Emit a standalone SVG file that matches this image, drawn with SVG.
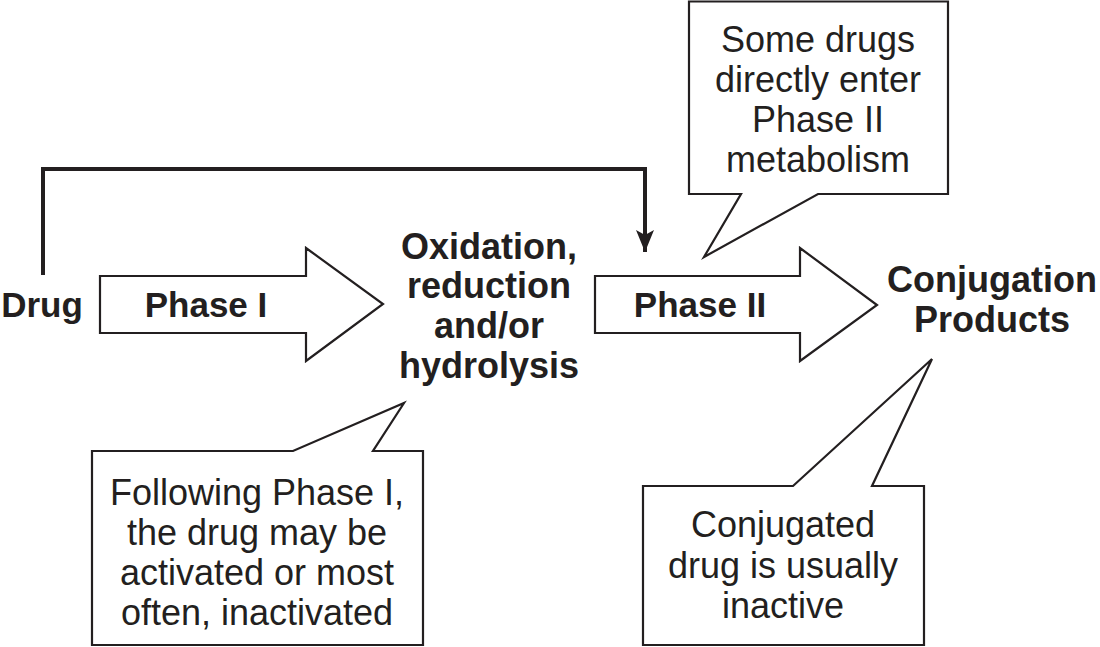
<svg xmlns="http://www.w3.org/2000/svg" width="1100" height="647" viewBox="0 0 1100 647">
<defs>
<style>
.shape{fill:#fff;stroke:#231f20;stroke-width:2.2;stroke-linejoin:miter}
.b{font-family:"Liberation Sans",Arial,sans-serif;font-weight:bold;font-size:35px;fill:#231f20;text-anchor:middle}
.bl{font-size:36px}
.r{font-family:"Liberation Sans",Arial,sans-serif;font-size:36px;fill:#231f20;text-anchor:middle}
.conn{fill:none;stroke:#231f20;stroke-width:4}
</style>
<marker id="ah" markerWidth="18" markerHeight="22" refX="9" refY="22" orient="0" markerUnits="userSpaceOnUse" viewBox="0 0 18 22">
<path d="M0,0 L9,5 L18,0 L9,22 Z" fill="#231f20"/>
</marker>
</defs>
<rect width="1100" height="647" fill="#fff"/>
<g id="connectors">
<path class="conn" d="M43,275 V169 H645 V252" marker-end="url(#ah)"/>
</g>
<g id="drug"><text class="b" x="42" y="317">Drug</text></g>
<g id="phase1">
<path class="shape" d="M100,276 H306 V248 L383,304 L306,361 V333 H100 Z"/>
<text class="b" x="206" y="317">Phase I</text>
</g>
<g id="oxidation">
<text class="b bl" x="489" y="259">Oxidation,</text>
<text class="b bl" x="489" y="298">reduction</text>
<text class="b bl" x="489" y="338">and/or</text>
<text class="b bl" x="489" y="378">hydrolysis</text>
</g>
<g id="phase2">
<path class="shape" d="M595,276 H800 V248 L877,305 L800,361 V333 H595 Z"/>
<text class="b" x="700" y="317">Phase II</text>
</g>
<g id="conjugation">
<text class="b bl" x="992" y="292">Conjugation</text>
<text class="b bl" x="992" y="332">Products</text>
</g>
<g id="callout-top">
<path class="shape" d="M689,1.5 H948 V194 H818 L704,257 L741,194 H689 Z"/>
<text class="r" x="818" y="52">Some drugs</text>
<text class="r" x="818" y="92">directly enter</text>
<text class="r" x="818" y="132">Phase II</text>
<text class="r" x="818" y="172">metabolism</text>
</g>
<g id="callout-phase1">
<path class="shape" d="M92,451 H293 L404,403 L373,451 H423 V645 H92 Z"/>
<text class="r" x="257" y="505">Following Phase I,</text>
<text class="r" x="257" y="545">the drug may be</text>
<text class="r" x="257" y="585">activated or most</text>
<text class="r" x="257" y="625">often, inactivated</text>
</g>
<g id="callout-conj">
<path class="shape" d="M643,486 H793 L932,359 L872,486 H924 V645 H643 Z"/>
<text class="r" x="783" y="537">Conjugated</text>
<text class="r" x="783" y="578">drug is usually</text>
<text class="r" x="783" y="618">inactive</text>
</g>
</svg>
